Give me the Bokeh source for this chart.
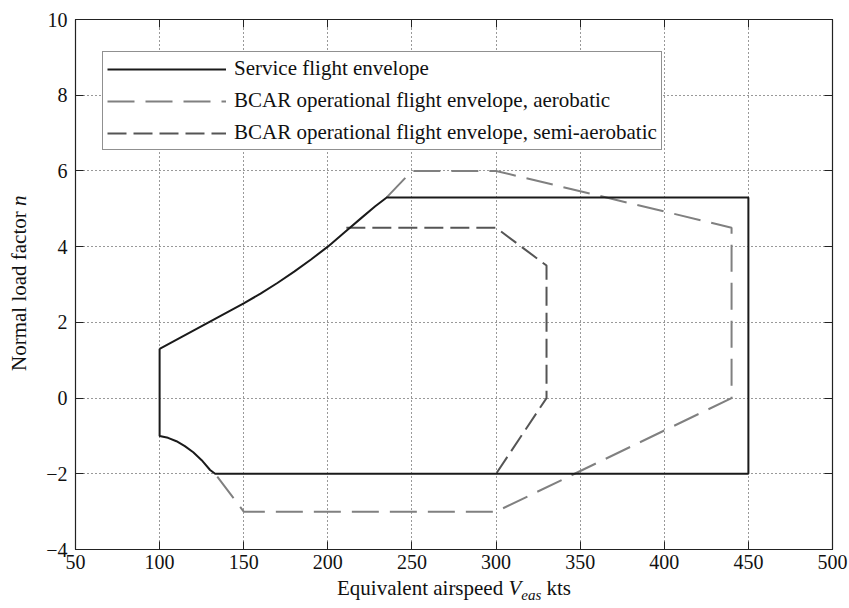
from bokeh.plotting import figure
from bokeh.layouts import row, column
from bokeh.models import Range1d, FixedTicker, LinearAxis, Legend, LegendItem, Div
from bokeh.embed import file_html
from bokeh.resources import INLINE

# ---------------- data ----------------
service_v = [100, 150, 160, 170, 180, 190, 200, 210, 220, 228, 235, 450, 450, 133, 130, 125, 120, 115, 110, 105, 100, 100]
service_n = [1.3, 2.5, 2.76, 3.04, 3.34, 3.66, 4.0, 4.38, 4.76, 5.06, 5.3, 5.3, -2.0, -2.0, -1.9, -1.64, -1.43, -1.27, -1.14, -1.05, -1.0, 1.3]

aero_v = [235, 250, 300, 440, 440, 300, 150, 133]
aero_n = [5.3, 6.0, 6.0, 4.5, 0.0, -3.0, -3.0, -2.0]

semi_v = [211, 300, 330, 330, 300]
semi_n = [4.5, 4.5, 3.5, 0.0, -2.0]

x_ticks = [50, 100, 150, 200, 250, 300, 350, 400, 450, 500]
y_ticks = [-4, -2, 0, 2, 4, 6, 8, 10]
y_tick_labels = {-4: "\u22124", -2: "\u22122"}

labels = ["Service flight envelope",
          "BCAR operational flight envelope, aerobatic",
          "BCAR operational flight envelope, semi-aerobatic"]

x_title_html = "Equivalent airspeed <i>V</i><sub style='font-size:15px'><i>eas</i></sub> kts"
y_title_html = "Normal load factor <i>n</i>"

# ---------------- layout ----------------
PAGE_W, PAGE_H = 849, 608
YDIV_W = 40
XDIV_H = 30
W, H = PAGE_W - YDIV_W, PAGE_H - XDIV_H
BL, BR, BT, BB = 35, 17, 19, 29
X0, X1, Y0, Y1 = 50, 500, -4, 10
FONT = "Liberation Serif"
INK = "#111111"

p = figure(width=W, height=H, x_range=Range1d(X0, X1), y_range=Range1d(Y0, Y1),
           output_backend="svg", toolbar_location=None,
           min_border_left=BL, min_border_right=BR, min_border_top=BT, min_border_bottom=BB)
p.background_fill_color = "white"
p.border_fill_color = "white"
p.outline_line_color = "#222222"
p.outline_line_width = 1.2

def style_axis(ax, ticks, show_labels, standoff):
    ax.ticker = FixedTicker(ticks=ticks)
    ax.major_tick_in = 8
    ax.major_tick_out = 0
    ax.minor_tick_line_color = None
    ax.major_tick_line_color = "#222222"
    ax.axis_line_color = "#222222"
    ax.major_label_text_font = FONT
    ax.major_label_text_font_size = "20px"
    ax.major_label_text_color = INK
    ax.major_label_standoff = standoff
    if not show_labels:
        ax.major_label_overrides = {t: "" for t in ticks}
        ax.major_label_standoff = 0

style_axis(p.xaxis[0], x_ticks, True, 5)
style_axis(p.yaxis[0], y_ticks, True, 8)
p.yaxis[0].major_label_overrides = y_tick_labels

ax_r = LinearAxis()
style_axis(ax_r, y_ticks, False, 0)
p.add_layout(ax_r, "right")
ax_t = LinearAxis()
style_axis(ax_t, x_ticks, False, 0)
p.add_layout(ax_t, "above")

for g, t in ((p.xgrid[0], x_ticks), (p.ygrid[0], y_ticks)):
    g.ticker = FixedTicker(ticks=t)
    g.grid_line_color = "#333333"
    g.grid_line_dash = "1 3"
    g.grid_line_width = 1

# ---------------- lines ----------------
r_a = p.line(aero_v, aero_n, line_color="#808080", line_width=2, line_dash="27 11")
r_m = p.line(semi_v, semi_n, line_color="#555555", line_width=2, line_dash="19 7")
r_s = p.line(service_v, service_n, line_color="#1a1a1a", line_width=2)

legend = Legend(items=[LegendItem(label=labels[0], renderers=[r_s]),
                       LegendItem(label=labels[1], renderers=[r_a]),
                       LegendItem(label=labels[2], renderers=[r_m])],
                location=(27, 399), padding=4, spacing=7, margin=0,
                label_height=24, glyph_height=24, glyph_width=119, label_standoff=8,
                label_text_font=FONT, label_text_font_size="21px", label_text_color=INK,
                border_line_color="#222222", border_line_width=1,
                background_fill_color="white", background_fill_alpha=1)
p.add_layout(legend)

# ---------------- axis titles (HTML text for italics / subscript) ----------------
font_css = f"font-family:'{FONT}'; font-size:21px; line-height:21px; color:{INK}; white-space:nowrap;"

ydiv = Div(width=YDIV_W, height=H, margin=0,
           text=(f"<div style='position:relative; width:{YDIV_W}px; height:{H}px;'>"
                 f"<span style=\"position:absolute; left:9px; top:371px; transform-origin:0 0; "
                 f"transform:rotate(-90deg); {font_css}\">{y_title_html}</span></div>"))

xdiv = Div(width=PAGE_W, height=XDIV_H, margin=0,
           text=(f"<div style='position:relative; width:{PAGE_W}px; height:{XDIV_H}px;'>"
                 f"<span style=\"position:absolute; left:337px; top:0px; {font_css}\">"
                 f"{x_title_html}</span></div>"))

layout = column(row(ydiv, p, spacing=0), xdiv, spacing=0)

open("out.html", "w").write(file_html(layout, INLINE))
